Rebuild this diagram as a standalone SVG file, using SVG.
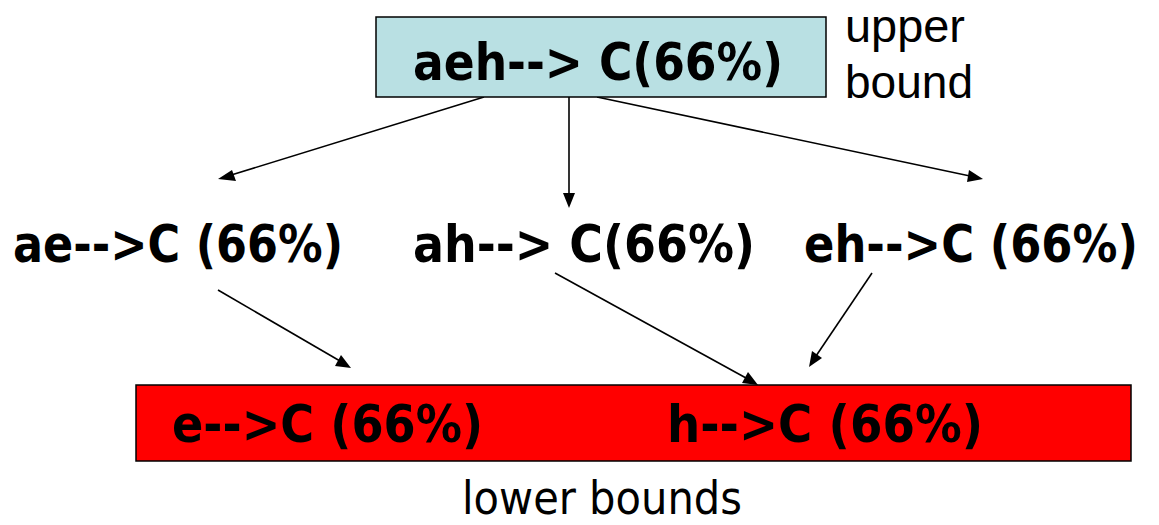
<svg xmlns="http://www.w3.org/2000/svg" width="1159" height="525" viewBox="0 0 1159 525">
<style>
.b{font-family:"DejaVu Sans","Liberation Sans",sans-serif;font-weight:bold;font-size:51px;fill:#000}
.r{font-family:"DejaVu Sans","Liberation Sans",sans-serif;font-size:46px;fill:#000}
.a{font-family:"Liberation Sans","Arial",sans-serif;font-size:46px;fill:#000}
.c{stroke:#000;stroke-width:1.6;fill:none}
</style>
<g id="connectors">
<path class="c" d="M484,97 L228,176"/>
<path d="M218,179 L232,170 L236,181 Z" fill="#000"/>
<path class="c" d="M569,97 L569,195"/>
<path d="M563,193 L575,193 L569,208 Z" fill="#000"/>
<path class="c" d="M597,97 L970,176"/>
<path d="M983,179 L967,182 L969,170 Z" fill="#000"/>
<path class="c" d="M218,290 L340,361"/>
<path d="M351,368 L335,366 L341,355 Z" fill="#000"/>
<path class="c" d="M555,273 L746,378"/>
<path d="M758,385 L742,383 L748,372 Z" fill="#000"/>
<path class="c" d="M872,273 L816,356"/>
<path d="M809,367 L812,351 L822,358 Z" fill="#000"/>
</g>
<g id="top">
<rect x="376" y="17" width="450" height="80" fill="#B9E0E3" stroke="#000" stroke-width="1.5"/>
<text class="b" x="413" y="80" textLength="370" lengthAdjust="spacingAndGlyphs">aeh--&gt; C(66%)</text>
</g>
<g id="upper-label">
<text class="a" x="845" y="42" textLength="120" lengthAdjust="spacingAndGlyphs">upper</text>
<text class="a" x="845" y="98" textLength="128" lengthAdjust="spacingAndGlyphs">bound</text>
</g>
<g id="ae">
<text class="b" x="13" y="262" textLength="330" lengthAdjust="spacingAndGlyphs">ae--&gt;C (66%)</text>
</g>
<g id="ah">
<text class="b" x="413" y="262" textLength="342" lengthAdjust="spacingAndGlyphs">ah--&gt; C(66%)</text>
</g>
<g id="eh">
<text class="b" x="804" y="262" textLength="334" lengthAdjust="spacingAndGlyphs">eh--&gt;C (66%)</text>
</g>
<g id="bottom">
<rect x="136" y="385" width="995" height="76" fill="#FF0000" stroke="#000" stroke-width="1.5"/>
<text class="b" x="172" y="442" textLength="311" lengthAdjust="spacingAndGlyphs">e--&gt;C (66%)</text>
<text class="b" x="667" y="442" textLength="316" lengthAdjust="spacingAndGlyphs">h--&gt;C (66%)</text>
</g>
<g id="lower-label">
<text class="r" x="462" y="514" textLength="280" lengthAdjust="spacingAndGlyphs">lower bounds</text>
</g>
</svg>
